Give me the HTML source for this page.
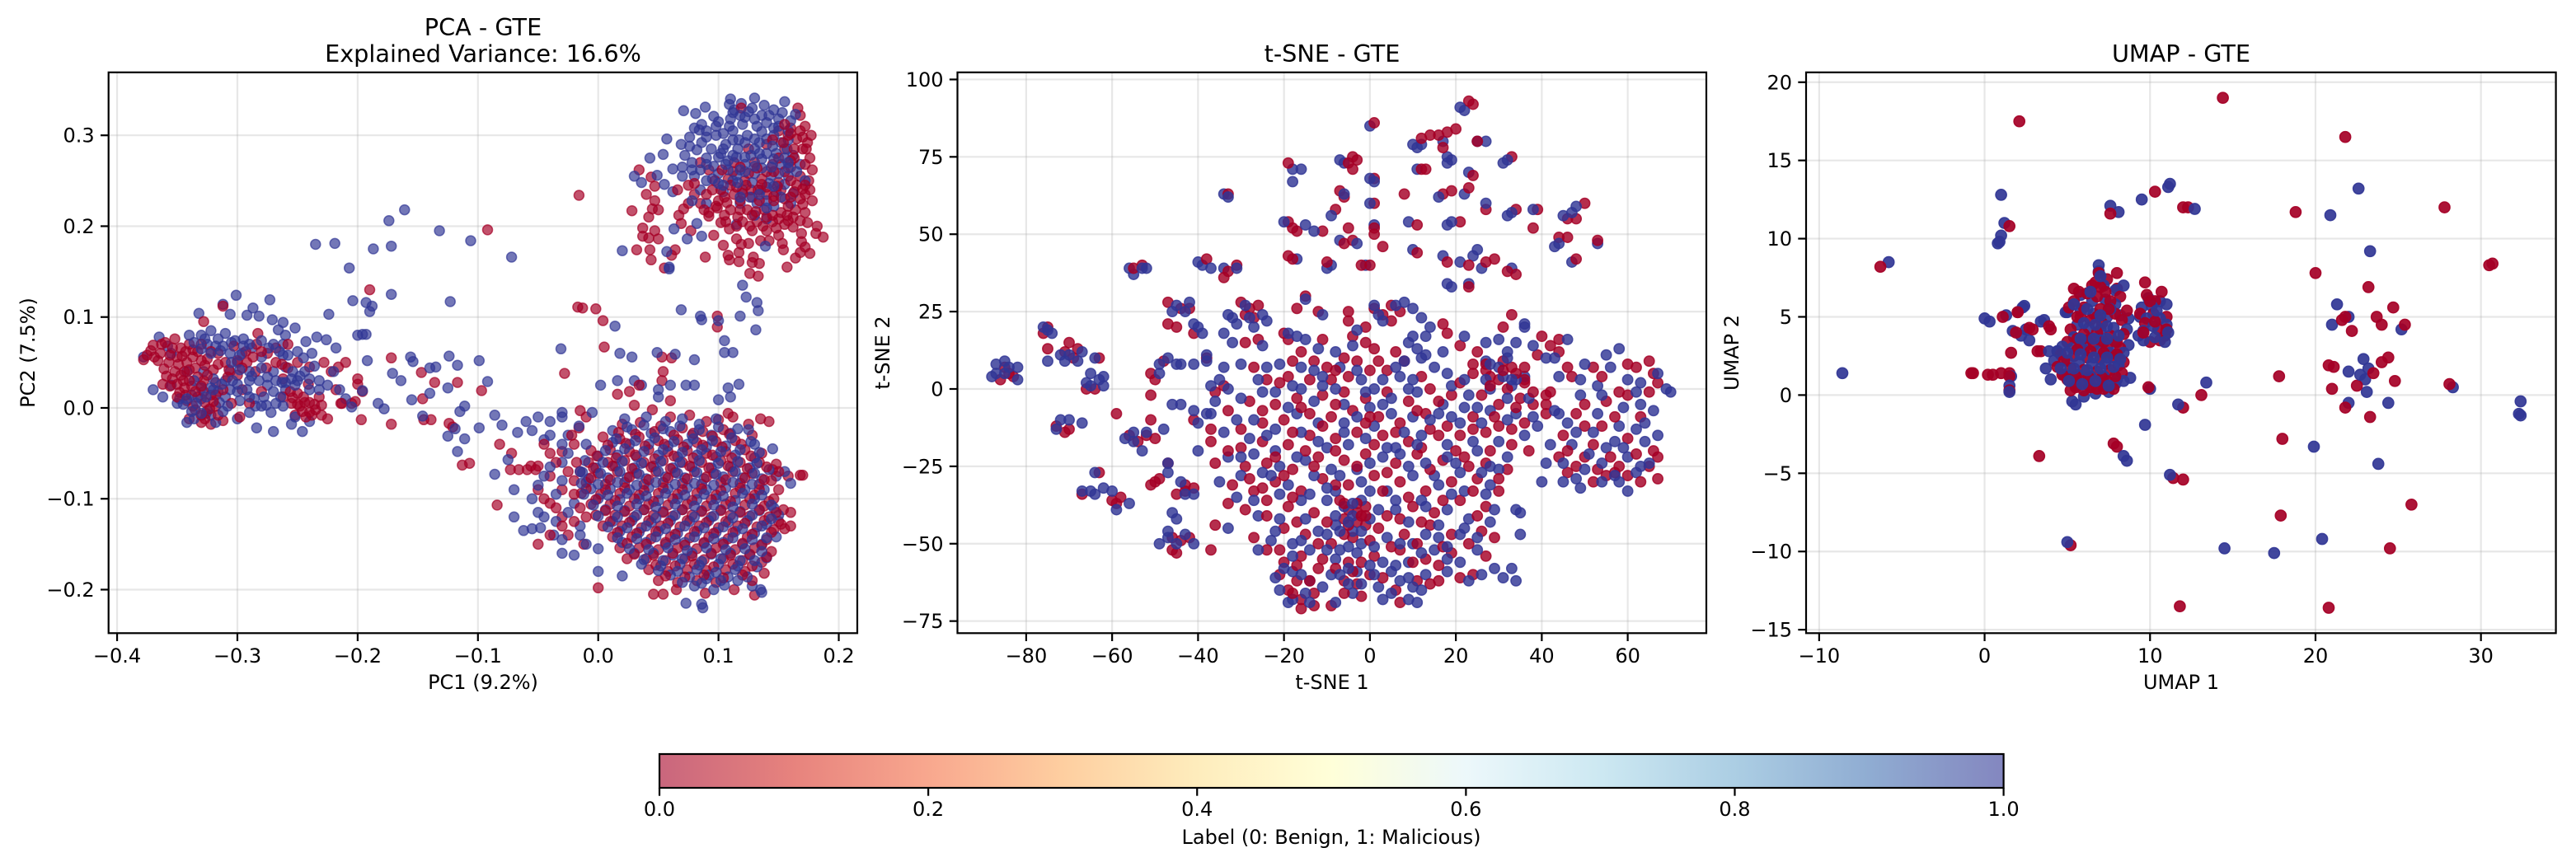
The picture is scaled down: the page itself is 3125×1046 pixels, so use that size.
<!DOCTYPE html>
<html lang="en">
<head>
<meta charset="utf-8">
<title>PCA, t-SNE and UMAP projections - GTE</title>
<style>
html,body{margin:0;padding:0;background:#fff}
svg{display:block}
text{font-family:"DejaVu Sans","Liberation Sans",sans-serif;fill:#000}
.title{font-size:28.7px;text-anchor:middle}
.axis-label{font-size:24px;text-anchor:middle}
.tick{font-size:24px}
</style>
</head>
<body>
<svg id="figure" xmlns="http://www.w3.org/2000/svg" width="3125" height="1046" viewBox="0 0 3125 1046">
<defs><linearGradient id="rdylbu" x1="0" x2="1" y1="0" y2="0"></linearGradient></defs>
<rect width="3125" height="1046" fill="#fff"/>
<g id="pca-panel"></g>
<g id="tsne-panel"></g>
<g id="umap-panel"></g>
<text class="title" x="586" y="43">PCA - GTE</text>
<text class="title" x="586" y="75">Explained Variance: 16.6%</text>
<text class="title" x="1616" y="75">t-SNE - GTE</text>
<text class="title" x="2646" y="75">UMAP - GTE</text>
<text class="axis-label" x="586" y="836">PC1 (9.2%)</text>
<text class="axis-label" x="1616" y="836">t-SNE 1</text>
<text class="axis-label" x="2646" y="836">UMAP 1</text>
<text class="axis-label" transform="translate(42,428) rotate(-90)">PC2 (7.5%)</text>
<text class="axis-label" transform="translate(1079,428) rotate(-90)">t-SNE 2</text>
<text class="axis-label" transform="translate(2109,428) rotate(-90)">UMAP 2</text>
<g id="colorbar"></g>
<text class="axis-label" x="1615" y="1024">Label (0: Benign, 1: Malicious)</text>
</svg>
<script>
const pcaXTicks=[-.4,-.3,-.2,-.1,0,.1,.2];
const pcaXLabels=["\u22120.4","\u22120.3","\u22120.2","\u22120.1","0.0","0.1","0.2"];
const pcaYTicks=[-.2,-.1,0,.1,.2,.3];
const pcaYLabels=["\u22120.2","\u22120.1","0.0","0.1","0.2","0.3"];
const tsneXTicks=[-80,-60,-40,-20,0,20,40,60];
const tsneXLabels=["\u221280","\u221260","\u221240","\u221220","0","20","40","60"];
const tsneYTicks=[-75,-50,-25,0,25,50,75,100];
const tsneYLabels=["\u221275","\u221250","\u221225","0","25","50","75","100"];
const umapXTicks=[-10,0,10,20,30];
const umapXLabels=["\u221210","0","10","20","30"];
const umapYTicks=[-15,-10,-5,0,5,10,15,20];
const umapYLabels=["\u221215","\u221210","\u22125","0","5","10","15","20"];
const colorbarTicks=[0,.2,.4,.6,.8,1];
const colorbarLabels=["0.0","0.2","0.4","0.6","0.8","1.0"];
const colormapPositions=[0,.1,.2,.3,.4,.5,.6,.7,.8,.9,1];
const colormapColors=["#a50026","#d73027","#f46d43","#fdae61","#fee090","#ffffbf","#e0f3f8","#abd9e9","#74add1","#4575b4","#313695"];

const pcaBenign=[
[-.378,.053],[-.375,.058],[-.37,.069],[-.364,.06],[-.36,.072],[-.352,.076],[-.347,.066],[-.357,.05],[-.35,.056],[-.34,.07],[-.333,.062],[-.342,.05],[-.359,.035],[-.352,.04],[-.345,.03],[-.335,.044],[-.325,.054],[-.316,.06],[-.31,.05],[-.32,.042],[-.348,.017],[-.338,.024],[-.328,.03],[-.318,.028],[-.342,.008],[-.333,.012],[-.322,.014],[-.335,-.002],[-.326,-.006],[-.318,.002],[-.33,-.016],[-.322,-.018],[-.312,-.014],[-.34,-.012],[-.362,.026],[-.3,.036],[-.292,.05],[-.284,.07],[-.275,.06],[-.285,.04],[-.268,.05],[-.262,.032],[-.303,.068],[-.296,.02],[-.28,.018],[-.328,.095],[-.312,.112],[-.283,.082],[-.262,.012],[-.255,.005],[-.248,.002],[-.24,-.005],[-.245,.012],[-.236,.004],[-.23,-.008],[-.252,-.008],[-.232,.012],[-.25,.05],[-.24,.045],[-.228,.05],[-.222,.04],[-.216,.045],[-.21,.05],[-.225,-.012],[-.218,.02],[-.213,.005],[-.205,.005],[-.2,.032],[-.196,.018],[-.241,.026],[-.258,.07],[-.305,.005],[-.298,-.01],[-.29,.005],
[-.092,.196],[-.19,.13],[-.016,.234],[-.017,.111],[-.013,.11],[-.002,.109],[.004,.096],[.005,.067],[-.028,.038],[-.172,.055],[-.136,.028],[-.147,.039],[-.117,.028],[-.097,.019],[-.146,.01],[-.214,.005],[-.202,.007],[-.2,.026],[-.197,-.013],[-.172,-.018],[-.145,-.013],[-.139,-.013],[-.124,-.017],[-.121,-.021],[-.113,-.063],[-.107,-.061],[-.082,-.04],[-.084,-.107],[-.072,-.05],[-.073,-.068],[-.066,-.068],[-.059,-.068],[-.052,-.068],[.099,.101],[.099,.089],[.053,.056],[.061,.055],
[.034,.262],[.044,.254],[.047,.244],[.04,.235],[.047,.228],[.05,.218],[.045,.219],[.028,.217],[.042,.21],[.037,.198],[.037,.189],[.042,.187],[.047,.195],[.05,.186],[.032,.174],[.043,.174],[.044,.163],[.064,.174],[.061,.168],[.055,.154],[.089,.166],[.096,.19],[.104,.179],[.108,.168],[.109,.163],[.117,.171],[.117,.161],[.115,.186],[.119,.18],[.125,.181],[.129,.166],[.128,.16],[.134,.159],[.126,.148],[.133,.145],[.153,.181],[.154,.174],[.157,.155],[.169,.192],[.169,.183],[.168,.171],[.164,.165],[.176,.17],[.172,.177],[.174,.204],[.182,.2],[.181,.192],[.187,.188],[.162,.199],[.142,.184],[.135,.184],[.109,.197],[.102,.204],[.092,.211],[.099,.22],[.067,.212],[.069,.203],[.077,.195],[.071,.219],
[.119,.33],[.166,.33],[.168,.322],[.172,.31],[.16,.308],[.15,.305],[.165,.296],[.177,.3],[.176,.275],[.178,.262],[.17,.285],[.155,.285],[.14,.29],[.125,.285],[.113,.27],[.13,.27],[.145,.268],[.16,.265],[.085,.27],[.092,.262],[.075,.245],[.066,.24],[.08,.235],[.095,.24],[.108,.252],[.122,.25],[.136,.252],[.15,.248],[.165,.245],[.176,.24],[.178,.228],[.168,.23],[.155,.23],[.14,.235],[.128,.232],[.113,.235],[.1,.228],[.11,.218],[.124,.218],[.138,.218],[.152,.215],[.164,.218],[.12,.205],[.132,.205],[.145,.205],[.155,.202],[.128,.195],[.14,.195],[.15,.19],[.085,.225],[.075,.225],[.172,.215],
[.0,-.198],[.046,-.205],[.054,-.205],[.089,-.204],[.13,-.206],[.113,-.2],[.065,-.2],[.17,-.074],[.168,-.074],[.155,-.133],[.16,-.115],[.1,-.013],[.135,-.012],[.125,-.018],[.108,-.006],[.112,-.01],[.142,-.015],[.16,-.13],[.158,-.075],[.145,-.068],[.15,-.07],[.06,.008],[.054,.04],[.053,.03],[.034,.025],[.016,.015],[.026,.018],[-.015,-.003],[-.01,-.01],[-.016,-.022],[-.02,-.04],[-.03,-.048],[-.04,-.05],[-.04,-.075],[-.05,-.064],[-.056,-.064],[-.02,-.08],[-.03,-.09],[-.05,-.09],[-.04,-.105],[-.03,-.12],[-.025,-.14],[-.05,-.15],[-.01,-.12],[-.012,-.15],
[.03,.003],[.045,-.002],[.06,-.01],[.076,-.008],[.09,-.015],[.02,-.018],[.035,-.016],[.052,-.02],[.07,-.022],[.087,-.026],[.104,-.024],[.004,-.032],[.018,-.034],[.034,-.032],[.05,-.036],[.066,-.035],[.082,-.038],[.098,-.037],[.114,-.036],[.128,-.03],[-.006,-.047],[.01,-.046],[.026,-.048],[.042,-.046],[.058,-.048],[.074,-.047],[.09,-.05],[.106,-.048],[.122,-.046],[.136,-.05],[-.008,-.06],[.008,-.06],[.022,-.058],[.038,-.06],[.054,-.058],[.07,-.06],[.086,-.06],[.102,-.058],[.118,-.06],[.134,-.06],[.148,-.062],[-.015,-.07],[.0,-.072],[.016,-.07],[.032,-.072],[.048,-.07],[.064,-.071],[.08,-.07],[.096,-.072],[.112,-.07],[.128,-.072],[.144,-.08],[-.01,-.082],[.006,-.084],[.022,-.082],[.038,-.084],[.054,-.082],[.07,-.083],[.086,-.084],[.102,-.082],[.118,-.083],[.134,-.084],[.15,-.09],[-.014,-.094],[.002,-.095],[.018,-.094],[.034,-.096],[.05,-.094],[.066,-.095],[.082,-.094],[.098,-.096],[.114,-.094],[.13,-.096],[.146,-.1],[-.006,-.106],[.01,-.106],[.026,-.108],[.042,-.106],[.058,-.107],[.074,-.106],[.09,-.108],[.106,-.106],[.122,-.107],[.138,-.108],[.154,-.112],[-.002,-.118],[.014,-.118],[.03,-.12],[.046,-.118],[.062,-.119],[.078,-.118],[.094,-.12],[.11,-.118],[.126,-.119],[.142,-.12],[.15,-.125],[.004,-.13],[.02,-.13],[.036,-.132],[.052,-.13],[.068,-.131],[.084,-.13],[.1,-.132],[.116,-.13],[.132,-.131],[.146,-.134],[.012,-.142],[.028,-.142],[.044,-.144],[.06,-.142],[.076,-.143],[.092,-.142],[.108,-.144],[.124,-.142],[.14,-.145],[.018,-.154],[.034,-.154],[.05,-.156],[.066,-.154],[.082,-.155],[.098,-.154],[.114,-.156],[.13,-.154],[.144,-.158],[.024,-.166],[.04,-.166],[.056,-.168],[.072,-.166],[.088,-.167],[.104,-.166],[.12,-.168],[.136,-.17],[.042,-.178],[.058,-.18],[.074,-.178],[.09,-.179],[.106,-.178],[.122,-.18],[.138,-.182],[.05,-.19],[.066,-.192],[.082,-.19],[.098,-.192],[.128,-.19],
[.017,-.027],[.031,-.029],[.047,-.026],[.063,-.03],[.079,-.028],[.095,-.031],[.109,-.029],[.008,-.041],[.023,-.039],[.039,-.042],[.055,-.04],[.071,-.043],[.087,-.041],[.103,-.043],[.119,-.04],[-.001,-.053],[.015,-.055],[.031,-.052],[.047,-.056],[.063,-.053],[.079,-.055],[.095,-.052],[.111,-.055],[.127,-.053],[-.004,-.066],[.012,-.064],[.028,-.067],[.044,-.065],[.06,-.067],[.076,-.064],[.092,-.066],[.108,-.064],[.124,-.067],[.14,-.065],[-.006,-.077],[.01,-.079],[.026,-.076],[.042,-.079],[.058,-.077],[.074,-.078],[.09,-.076],[.106,-.079],[.122,-.077],[.138,-.079],[-.01,-.089],[.006,-.09],[.022,-.088],[.038,-.091],[.054,-.088],[.07,-.09],[.086,-.089],[.102,-.091],[.118,-.088],[.134,-.09],[-.002,-.101],[.014,-.102],[.03,-.1],[.046,-.103],[.062,-.1],[.078,-.102],[.094,-.101],[.11,-.103],[.126,-.1],[.142,-.103],[.006,-.113],[.022,-.114],[.038,-.112],[.054,-.115],[.07,-.112],[.086,-.114],[.102,-.113],[.118,-.115],[.134,-.112],[.148,-.115],[.01,-.125],[.026,-.126],[.042,-.124],[.058,-.127],[.074,-.124],[.09,-.126],[.106,-.125],[.122,-.127],[.138,-.124],[.152,-.128],[.016,-.137],[.032,-.138],[.048,-.136],[.064,-.139],[.08,-.136],[.096,-.138],[.112,-.137],[.128,-.139],[.144,-.137],[.024,-.149],[.04,-.15],[.056,-.148],[.072,-.151],[.088,-.148],[.104,-.15],[.12,-.149],[.136,-.151],[.03,-.161],[.046,-.162],[.062,-.16],[.078,-.163],[.094,-.16],[.11,-.162],[.126,-.161],[.14,-.164],[.048,-.173],[.064,-.174],[.08,-.172],[.096,-.175],[.112,-.172],[.128,-.174],[.056,-.185],[.072,-.186],[.088,-.184],[.104,-.187],[.12,-.184],
[.092,.215],[.105,.212],[.116,.21],[.128,.212],[.14,.21],[.15,.208],[.162,.21],[.09,.235],[.102,.24],[.115,.243],[.127,.24],[.14,.243],[.152,.24],[.163,.238],[.172,.235],[.08,.247],[.097,.25],[.112,.26],[.125,.258],[.14,.26],[.155,.26],[.168,.255],[.175,.25],[.15,.275],[.163,.275],[.173,.285],[.158,.3],[.168,.305],[.145,.295],
[-.372,.063],[-.366,.052],[-.361,.043],[-.354,.066],[-.346,.057],[-.337,.056],[-.327,.047],[-.33,.07],[-.356,.024],[-.35,.012],[-.344,.022],[-.333,.034],[-.344,.04],[-.337,.002],[-.327,.006],[-.318,.014],[-.328,.018],[-.316,.048],[-.307,.042],[-.3,.052],[-.293,.062],[-.276,.044],[-.268,.066],[-.258,.044],[-.25,.016],[-.24,.006],[-.25,.004],[-.238,-.008],[-.246,-.004],[-.256,.018],[-.23,.003],
[.088,.218],[.098,.222],[.107,.226],[.118,.228],[.134,.228],[.146,.228],[.158,.222],[.17,.224],[.106,.205],[.115,.2],[.126,.2],[.137,.2],[.148,.198],[.158,.206],[.168,.206],[.118,.218],[.131,.216],[.145,.212],[.157,.212],[.105,.232],[.12,.236],[.133,.24],[.146,.233],[.16,.232],[.17,.241],[.11,.245],[.123,.245],[.136,.246],[.149,.244],[.16,.25],[.172,.245],[.103,.262],[.118,.265],[.132,.264],[.146,.26],[.16,.272],[.172,.268],[.154,.292],[.163,.285],[.174,.292],[.16,.302],[.17,.298],[.155,.312],
[-.369,.056],[-.363,.07],[-.356,.058],[-.349,.048],[-.343,.062],[-.337,.064],[-.354,.032],[-.347,.036],[-.34,.03],[-.35,.026],[-.343,.014],[-.335,.018],[-.33,.024],[-.325,.036],[-.34,.042],[-.33,.052],[-.322,.062],[-.33,-.008],[-.323,-.001],[-.327,-.012],[-.316,-.008],[-.32,.007],[-.312,.02],[-.308,.034],[-.296,.044],[-.287,.056],[-.28,.062],[-.263,.048],[-.254,.011],[-.244,.006],[-.235,-.002],[-.243,-.01],
[-.045,-.04],[-.035,-.06],[-.025,-.07],[-.045,-.1],[-.035,-.11],[-.02,-.095],[-.03,-.13],[-.04,-.14],[-.02,-.125],[-.018,-.06],[-.022,-.03],[-.015,-.11]
];
const pcaMalicious=[
[-.378,.056],[-.365,.078],[-.358,.068],[-.33,.08],[-.322,.085],[-.316,.076],[-.31,.082],[-.302,.074],[-.325,.07],[-.312,.068],[-.295,.076],[-.288,.066],[-.332,.104],[-.312,.114],[-.306,.103],[-.301,.124],[-.292,.102],[-.282,.101],[-.273,.119],[-.287,.11],[-.271,.097],[-.262,.094],[-.26,.08],[-.262,.07],[-.266,.086],[-.252,.088],[-.25,.062],[-.243,.073],[-.234,.078],[-.226,.075],[-.218,.066],[-.296,.06],[-.31,.03],[-.3,.05],[-.306,.04],[-.282,.03],[-.29,.03],[-.27,.04],[-.26,.045],[-.275,.025],[-.26,.02],[-.348,.01],[-.355,.025],[-.362,.012],[-.342,.04],[-.35,.005],[-.338,.014],[-.328,.04],[-.33,.01],[-.322,.022],[-.31,.012],[-.316,.018],[-.325,-.003],[-.336,-.012],[-.318,-.016],[-.306,.02],[-.298,.008],[-.286,.01],[-.278,.012],[-.268,.005],[-.272,-.005],[-.3,-.012],[-.284,-.022],[-.27,-.026],[-.252,-.01],[-.246,-.026],[-.24,-.015],[-.255,-.018],[-.285,.002],[-.262,.002],[-.24,.02],[-.232,.03],[-.225,.025],[-.22,.04],[-.215,.02],[-.21,.01],[-.238,.06],[-.248,.035],[-.37,.02],[-.355,.06],
[-.235,.18],[-.219,.181],[-.187,.175],[-.172,.178],[-.207,.154],[-.174,.206],[-.161,.218],[-.132,.195],[-.106,.184],[-.072,.166],[-.204,.118],[-.193,.116],[-.188,.112],[-.19,.106],[-.172,.125],[-.224,.103],[-.123,.117],[-.2,.08],[-.196,.081],[-.193,.081],[-.192,.052],[-.196,.019],[-.183,.005],[-.178,-.001],[-.205,.001],[-.156,.056],[-.154,.051],[-.171,.038],[-.164,.03],[-.124,.057],[-.117,.047],[-.135,.045],[-.14,.044],[-.099,.052],[-.092,.029],[-.125,.022],[-.14,.016],[-.155,.009],[-.111,.002],[-.115,-.004],[-.146,-.009],[-.099,-.022],[-.086,-.008],[-.08,-.019],[-.125,-.031],[-.119,-.023],[-.111,-.034],[-.117,-.048],[-.086,-.073],[-.075,-.057],
[.12,.135],[.123,.122],[.132,.116],[.133,.107],[.118,.101],[.069,.108],[.085,.101],[.086,.097],[.1,.096],[.131,.086],[.105,.074],[.112,.061],[.105,.061],[.08,.053],[.049,.061],[.064,.059],[.018,.06],[.028,.056],[.014,.09],[-.031,.065],
[.071,.327],[.081,.324],[.089,.331],[.096,.321],[.11,.34],[.109,.334],[.13,.341],[.155,.337],[.119,.335],[.113,.328],[.057,.296],[.054,.279],[.043,.275],[.069,.29],[.03,.255],[.036,.248],[.062,.263],[.049,.256],[.055,.246],[.062,.238],[.02,.173],[.063,.197],[.082,.203],[.086,.189],[.074,.186],[.057,.172],[.059,.155],[.059,.153],[.139,.178],[.115,.202],
[.138,.333],[.146,.328],[.125,.326],[.11,.318],[.12,.312],[.13,.318],[.14,.314],[.15,.318],[.16,.316],[.112,.305],[.124,.3],[.136,.304],[.146,.3],[.158,.295],[.084,.306],[.076,.298],[.09,.298],[.082,.284],[.072,.278],[.094,.285],[.106,.29],[.116,.285],[.13,.285],[.148,.28],[.162,.278],[.108,.272],[.122,.268],[.136,.274],[.152,.268],[.168,.268],[.07,.265],[.08,.255],[.07,.255],[.09,.25],[.1,.258],[.115,.256],[.13,.258],[.144,.256],[.158,.255],[.085,.24],[.104,.238],[.12,.24],[.135,.24],[.148,.238],[.162,.236],[.078,.228],[.09,.225],[.118,.225],[.132,.225],[.146,.222],[.16,.225],[.13,.212],[.14,.208],
[.086,-.216],[.073,-.215],[.087,-.22],[.135,-.2],[.136,-.203],[.128,-.196],[.02,-.185],[.0,-.18],[.148,-.075],[.155,-.07],[.16,-.083],[.03,.03],[.036,.025],[.05,.012],[.06,.025],[.073,.025],[.08,.025],[.108,.022],[.117,.026],[.1,.009],[.11,.012],[.05,.02],[.002,.025],[.016,.03],[-.03,-.005],[-.05,-.01],[-.04,-.015],[-.03,-.01],[-.016,-.02],[-.005,-.005],[-.06,-.015],[-.055,-.025],[-.067,-.027],[-.045,-.035],[-.025,-.03],[-.03,-.06],[-.05,-.085],[-.07,-.09],[-.055,-.1],[-.05,-.115],[-.035,-.095],[-.07,-.12],[-.062,-.135],[-.055,-.133],[-.048,-.132],[-.037,-.14],[-.03,-.16],[-.02,-.162],[-.01,-.15],[.0,-.155],[-.035,-.125],[-.02,-.105],[-.015,-.13],
[.022,-.012],[.04,-.01],[.056,-.015],[.07,-.012],[.084,-.018],[.098,-.012],[.012,-.025],[.028,-.024],[.044,-.028],[.06,-.026],[.078,-.03],[.094,-.03],[.11,-.028],[.125,-.024],[.012,-.038],[.026,-.04],[.042,-.04],[.058,-.042],[.074,-.04],[.09,-.043],[.106,-.042],[.13,-.04],[.145,-.045],[.0,-.053],[.016,-.052],[.032,-.054],[.05,-.052],[.066,-.054],[.082,-.052],[.098,-.054],[.114,-.052],[.13,-.055],[-.002,-.066],[.014,-.064],[.03,-.066],[.046,-.064],[.062,-.066],[.078,-.065],[.094,-.066],[.11,-.065],[.126,-.066],[.142,-.068],[-.008,-.078],[.008,-.077],[.024,-.077],[.04,-.078],[.056,-.076],[.072,-.077],[.088,-.078],[.104,-.076],[.12,-.077],[.136,-.078],[-.006,-.089],[.01,-.089],[.026,-.09],[.042,-.088],[.058,-.089],[.074,-.088],[.09,-.09],[.106,-.088],[.122,-.09],[.138,-.09],[.0,-.1],[.018,-.101],[.034,-.1],[.05,-.102],[.066,-.1],[.082,-.101],[.098,-.1],[.114,-.102],[.13,-.1],[.146,-.11],[.006,-.112],[.022,-.113],[.038,-.112],[.054,-.114],[.07,-.112],[.086,-.113],[.102,-.112],[.118,-.114],[.134,-.113],[.15,-.118],[.012,-.125],[.028,-.124],[.044,-.126],[.06,-.124],[.076,-.125],[.092,-.124],[.108,-.126],[.124,-.124],[.14,-.128],[.018,-.136],[.034,-.137],[.05,-.136],[.066,-.138],[.082,-.136],[.098,-.137],[.114,-.136],[.13,-.138],[.148,-.142],[.02,-.148],[.04,-.148],[.056,-.15],[.072,-.148],[.088,-.149],[.104,-.148],[.12,-.15],[.136,-.15],[.03,-.16],[.046,-.16],[.062,-.162],[.078,-.16],[.094,-.161],[.11,-.16],[.126,-.162],[.14,-.165],[.036,-.172],[.052,-.174],[.068,-.172],[.084,-.173],[.1,-.172],[.116,-.174],[.132,-.175],[.06,-.184],[.076,-.186],[.092,-.184],[.108,-.186],[.124,-.186],[.08,-.196],[.096,-.2],[.105,-.195],[.09,-.188],
[.024,-.021],[.038,-.019],[.054,-.023],[.068,-.02],[.084,-.024],[.1,-.021],[.116,-.023],[.015,-.034],[.031,-.036],[.047,-.033],[.063,-.037],[.079,-.034],[.095,-.036],[.111,-.033],[.127,-.037],[.006,-.047],[.022,-.045],[.038,-.048],[.054,-.046],[.07,-.049],[.086,-.046],[.102,-.048],[.118,-.046],[.134,-.049],[-.011,-.058],[.004,-.06],[.02,-.059],[.036,-.061],[.052,-.059],[.068,-.06],[.084,-.058],[.1,-.061],[.116,-.059],[.132,-.061],[-.013,-.071],[.002,-.072],[.018,-.07],[.034,-.073],[.05,-.07],[.066,-.072],[.082,-.071],[.098,-.073],[.114,-.07],[.13,-.072],[-.014,-.083],[.0,-.084],[.016,-.082],[.032,-.085],[.048,-.082],[.064,-.084],[.08,-.083],[.096,-.085],[.112,-.082],[.128,-.084],[-.012,-.095],[.008,-.096],[.024,-.094],[.04,-.097],[.056,-.094],[.072,-.096],[.088,-.095],[.104,-.097],[.12,-.094],[.136,-.096],[-.004,-.107],[.016,-.108],[.032,-.106],[.048,-.109],[.064,-.106],[.08,-.108],[.096,-.107],[.112,-.109],[.128,-.106],[.144,-.107],[.0,-.119],[.016,-.12],[.032,-.118],[.048,-.121],[.064,-.118],[.08,-.12],[.096,-.119],[.112,-.121],[.128,-.118],[.144,-.122],[.008,-.131],[.024,-.132],[.04,-.13],[.056,-.133],[.072,-.13],[.088,-.132],[.104,-.131],[.12,-.133],[.136,-.13],[.016,-.143],[.032,-.144],[.048,-.142],[.064,-.145],[.08,-.142],[.096,-.144],[.112,-.143],[.128,-.145],[.14,-.143],[.026,-.155],[.042,-.156],[.058,-.154],[.074,-.157],[.09,-.154],[.106,-.156],[.122,-.155],[.136,-.158],[.038,-.167],[.054,-.168],[.07,-.166],[.086,-.169],[.102,-.166],[.118,-.168],[.13,-.168],[.05,-.179],[.066,-.18],[.082,-.178],[.098,-.181],[.114,-.178],[.07,-.192],[.086,-.193],[.102,-.19],[.116,-.19],
[.086,.312],[.098,.31],[.109,.31],[.118,.322],[.128,.33],[.136,.322],[.146,.308],[.153,.325],[.164,.323],[.117,.295],[.13,.296],[.14,.296],[.152,.292],[.098,.3],[.09,.275],[.1,.276],[.115,.276],[.127,.278],[.14,.28],[.155,.275],[.078,.27],[.085,.262],[.096,.266],[.108,.262],[.122,.26],[.136,.264],[.15,.258],[.165,.26],[.1,.247],[.112,.25],[.128,.248],[.142,.247],[.155,.246],[.172,.25],[.126,.232],[.14,.228],[.152,.232],
[-.34,.08],[-.327,.076],[-.318,.068],[-.306,.06],[-.295,.068],[-.28,.056],[-.27,.07],[-.262,.058],[-.305,.05],[-.29,.04],[-.3,.026],[-.292,.02],[-.28,.044],[-.268,.03],[-.255,.032],[-.345,.004],[-.336,.03],[-.32,.032],[-.338,-.004],[-.33,.022],[-.315,.006],[-.308,.002],[-.29,-.005],[-.276,.003],[-.264,.012],[-.252,.025],[-.244,.04],[-.258,.058],[-.232,.02],[-.342,-.016],[-.322,-.008],
[.08,.308],[.09,.305],[.1,.315],[.104,.302],[.112,.325],[.122,.32],[.132,.31],[.142,.322],[.15,.31],[.158,.305],[.104,.285],[.112,.295],[.122,.292],[.134,.292],[.145,.288],[.157,.285],[.076,.288],[.086,.292],[.078,.262],[.09,.268],[.102,.28],[.112,.278],[.122,.276],[.134,.28],[.146,.274],[.158,.27],[.095,.252],[.106,.268],[.118,.262],[.13,.266],[.144,.265],[.158,.264],[.104,.245],[.116,.248],[.134,.235],[.146,.244],[.118,.232],[.14,.22],
[-.336,.072],[-.33,.065],[-.322,.06],[-.314,.063],[-.305,.072],[-.298,.058],[-.29,.07],[-.28,.074],[-.274,.066],[-.265,.062],[-.298,.042],[-.288,.035],[-.275,.034],[-.263,.028],[-.254,.04],[-.342,.01],[-.334,.005],[-.326,.012],[-.32,.02],[-.313,.026],[-.33,-.006],[-.312,-.004],[-.3,.018],[-.29,.012],[-.28,.002],[-.27,.018],[-.26,.028],[-.25,.03],[-.24,.032],[-.236,.046],[-.245,.055],[-.304,.03],
[-.04,-.03],[-.03,-.04],[-.04,-.065],[-.025,-.05],[-.045,-.075],[-.03,-.08],[-.015,-.07],[-.045,-.12],[-.025,-.115],[-.03,-.145],[-.015,-.14],[-.01,-.04]
];

const tsneBenign=[
[23,93],[24,92],[1,86],[20,84],[18,83],[16,82],[12,81],[14,82],[25,80],[17,78],[-4,75],[-3,74],[-5,73],[-4,71],[-19,73],[13,71],[12,71],[33,75],[24,69],[1,68],[-7,64],[-6,62],[8,63],[17,63],[19,64],[23,65],[-33,63],[1,60],[27,58],[34,58],[39,58],[50,60],[46,55],[48,55],[-8,58],[-19,54],[-18,52],[-17,51],[-11,51],[-5,52],[-4,48],[-6,47],[1,52],[1,50],[11,53],[21,54],[38,52],[44,49],[46,49],[53,48],[11,44],[3,46],[18,41],[23,40],[27,41],[29,42],[32,38],[34,37],[48,42],[-18,42],[-19,43],[-10,41],[0,40],[-2,40],[23,33],[-38,42],[-31,40],[-33,38],[-34,36],[-53,40],[-55,39],
[-75,20],[-76,18],[-70,15],[-68,13],[-71,12],[-69,10],[-75,13],[-63,10],[-66,0],[-64,0],[-85,7],[-84,5],[-86,3],[-83,4],[-73,-12],[-71,-14],[-70,-13],[-59,-8],[-56,-15],[-54,-17],[-52,-15],[-50,-16],[-51,-2],[-51,-10],[-49,-29],[-47,-24],[-50,3],[-51,5],[-48,9],[-47,28],[-47,21],[-45,20],[-44,26],[-42,26],[-41,18],[-30,28],[-28,26],[-26,27],[-29,24],[-27,23],[-38,10],[-34,1],[-36,-1],[-37,-13],[-41,-10],[-50,-30],[-43,-33],[-41,-32],[-45,-34],[-43,-31],[-51,-31],[-46,-48],[-44,-49],[-42,-48],[-45,-53],[-46,-52],[-37,-52],[-67,-34],[-59,-37],[-60,-36],[-63,-27],[-58,-35],
[-15,30],[-17,26],[-12,25],[-5,25],[-5,22],[-20,18],[-19,16],[-11,16],[-1,20],[-4,17],[5,22],[3,24],[1,26],[5,27],[7,25],[-29,15],[-26,16],[-6,10],[-1,15],[1,13],[18,18],[17,21],[21,14],[25,12],[33,24],[31,20],[40,17],[42,14],[44,16],[44,12],[39,11],[47,4],
[-14,3],[-10,7],[-5,4],[0,6],[-18,9],[-13,9],[-9,3],[4,6],[8,9],[12,4],[24,5],[27,6],[30,3],[33,7],[36,2],[-27,7],[-24,3],[-19,4],
[-22,-5],[-17,-3],[-11,-2],[-6,-1],[-1,-3],[4,-1],[9,-4],[14,0],[19,-2],[26,-2],[30,-5],[35,-3],[38,-5],[41,-5],[-33,-7],[-28,-4],
[-30,-13],[-25,-11],[-20,-10],[-14,-8],[-9,-9],[-4,-7],[2,-9],[7,-11],[13,-8],[18,-12],[24,-9],[30,-12],[36,-11],[-37,-17],[-30,-19],[-25,-17],[-19,-18],[-14,-15],[-8,-16],[-3,-14],[3,-15],[9,-17],[14,-13],[21,-15],[27,-14],[33,-18],[37,-20],
[-36,-24],[-29,-25],[-24,-24],[-18,-26],[-12,-22],[-6,-23],[-1,-21],[6,-24],[11,-21],[17,-23],[23,-25],[27,-24],[32,-26],[-32,-31],[-27,-33],[-22,-30],[-16,-33],[-11,-29],[-5,-31],[1,-28],[7,-30],[13,-33],[19,-30],[25,-29],[30,-33],[-33,-37],[-29,-39],[-24,-36],[-19,-38],[-13,-40],[-7,-36],[-5,-39],[-3,-40],[-1,-38],[-3,-43],[-6,-42],[-1,-44],[4,-41],[10,-38],[15,-40],[21,-36],[27,-38],[-36,-44],[-27,-48],[-20,-45],[-15,-47],[-9,-50],[-4,-48],[2,-45],[8,-47],[14,-44],[19,-47],[26,-46],[29,-48],[-21,-52],[-16,-54],[-11,-55],[-5,-56],[1,-54],[7,-52],[13,-55],[19,-53],[27,-54],[-21,-60],[-17,-62],[-12,-58],[-6,-62],[0,-60],[6,-65],[11,-62],[16,-62],[21,-61],[24,-60],[-19,-65],[-16,-68],[-13,-66],[-9,-70],[-3,-63],[-2,-67],[7,-69],[-16,-71],[-20,-56],
[46,7],[52,7],[60,8],[62,7],[65,9],[66,5],[67,2],[65,-1],[42,-1],[48,-8],[55,-4],[60,-2],[63,-9],[45,-15],[50,-12],[54,-12],[52,-18],[60,-16],[66,-20],[44,-22],[48,-25],[53,-26],[58,-25],[65,-25],[67,-22],[46,-27],[52,-30],[55,-28],[60,-28],[67,-29],[36,3],[34,-6],[41,-8],[32,0],[28,4],[24,8],[31,9],[36,7],
[-21,2],[-16,12],[-8,6],[-3,9],[2,9],[6,12],[-16,-6],[-8,-5],[0,-9],[11,-7],[16,-4],[21,2],[29,-9],[-25,-7],[-18,-14],[-11,-12],[-1,-11],[6,-14],[16,-15],[24,-13],[33,-13],[-33,-20],[-22,-22],[-15,-20],[-8,-20],[1,-18],[12,-19],[20,-20],[28,-20],[-28,-29],[-20,-28],[-13,-25],[-3,-25],[4,-27],[14,-26],[22,-22],[30,-29],[-25,-32],[-18,-35],[-8,-31],[3,-33],[9,-35],[17,-36],[24,-33],[-24,-41],[-17,-43],[-10,-43],[-5,-44],[-2,-41],[-6,-37],[-3,-37],[-1,-41],[7,-42],[12,-43],[25,-41],[-24,-52],[-12,-50],[-6,-47],[0,-49],[5,-51],[11,-50],[17,-51],[23,-50],[-17,-57],[-8,-58],[-2,-56],[10,-56],[16,-57],[-14,-62],[-4,-59],[3,-61],[14,-63],[-18,-66],[-13,-70],[-6,-66],
[54,4],[58,-1],[50,-5],[57,-9],[46,-20],[56,-22],[62,-21],[50,-22],[57,-27],[63,-30],[31,6],[27,8],[34,5],[28,1],[38,-1],[41,-2]
];
const tsneMalicious=[
[22,90],[21,91],[0,85],[17,80],[12,79],[10,79],[11,78],[25,80],[27,80],[18,75],[19,74],[-7,74],[-6,73],[-18,71],[-16,71],[11,71],[18,73],[23,70],[32,74],[31,73],[1,67],[0,68],[-18,67],[-6,63],[16,62],[22,63],[-34,63],[-33,62],[0,60],[27,60],[33,57],[32,56],[38,58],[48,59],[47,57],[45,56],[-9,56],[-20,54],[-15,53],[-13,51],[-7,48],[-3,47],[1,53],[9,54],[10,45],[18,53],[19,54],[43,46],[44,47],[53,47],[25,45],[24,43],[17,43],[21,41],[26,39],[33,39],[47,41],[-17,42],[-9,40],[-10,39],[-1,40],[18,34],[19,33],[23,34],[-40,41],[-39,40],[-34,39],[-37,39],[-31,39],[-56,39],[-55,37],[-53,39],[-52,39],
[-76,20],[-75,19],[-74,18],[-72,11],[-71,9],[-70,11],[-68,9],[-67,12],[-75,9],[-64,10],[-65,5],[-66,2],[-63,3],[-62,1],[-65,1],[-62,4],[-87,8],[-85,9],[-87,5],[-84,7],[-88,4],[-85,5],[-82,3],[-82,7],[-72,-10],[-73,-13],[-70,-10],[-67,-11],[-55,-14],[-57,-16],[-53,-20],[-52,-14],[-55,-17],[-48,-13],[-47,-27],[-47,-24],[-49,8],[-47,10],[-45,8],[-49,5],[-45,27],[-42,28],[-46,25],[-43,25],[-40,20],[-39,18],[-41,21],[-32,23],[-29,27],[-31,21],[-27,20],[-25,24],[-24,22],[-28,23],[-33,24],[-35,3],[-33,0],[-37,1],[-44,8],[-41,8],[-38,9],[-41,-7],[-38,-8],[-40,-11],[-37,-8],[-44,-5],[-46,-5],[-43,-34],[-44,-30],[-41,-34],[-46,-40],[-45,-42],[-49,-50],[-47,-48],[-47,-46],[-45,-50],[-43,-47],[-41,-50],[-67,-33],[-65,-33],[-64,-34],[-62,-32],[-64,-27],[-60,-33],[-56,-37],[-59,-39],
[-15,29],[-11,24],[-3,19],[-17,17],[-15,16],[-19,18],[-8,12],[-4,14],[2,24],[1,27],[3,22],[6,27],[8,28],[10,26],[12,23],[14,20],[17,12],[22,17],[27,15],[30,16],[34,15],[32,12],[38,14],[41,10],[36,20],[36,21],[43,10],[46,16],[-34,18],[-32,15],[-25,14],[-12,13],[9,15],[11,13],[8,9],[12,10],[10,17],[13,17],[-38,11],[-34,7],
[-30,8],[-26,3],[-21,8],[-16,7],[-11,4],[-7,7],[-2,3],[3,3],[7,4],[10,3],[15,7],[19,1],[23,-2],[27,9],[31,4],[36,4],[-22,-1],[-16,0],[-11,1],[-6,-5],[-1,-1],[5,-3],[11,-1],[17,-5],[22,-6],[28,0],[33,1],[37,-3],[-30,-3],[-36,-4],
[-27,-10],[-22,-13],[-17,-8],[-12,-11],[-6,-11],[0,-6],[5,-8],[10,-9],[16,-8],[21,-11],[28,-7],[34,-8],[39,-12],[-34,-14],[-28,-16],[-22,-20],[-16,-14],[-10,-19],[-5,-18],[1,-12],[6,-19],[12,-15],[18,-18],[24,-17],[30,-17],[36,-15],[-40,-20],[-33,-22],[-27,-21],[-21,-25],[-15,-23],[-9,-26],[-3,-26],[3,-22],[9,-25],[15,-28],[20,-24],[26,-27],[30,-26],[-35,-30],[-30,-28],[-25,-27],[-19,-31],[-13,-28],[-8,-33],[-2,-30],[4,-33],[10,-28],[16,-31],[22,-33],[28,-31],[-31,-35],[-26,-41],[-21,-42],[-16,-36],[-10,-36],[-6,-38],[-4,-41],[-2,-36],[-4,-46],[-8,-44],[0,-42],[6,-39],[12,-36],[18,-39],[23,-42],[29,-39],[35,-40],[34,-39],[-33,-45],[-23,-49],[-18,-50],[-12,-46],[-7,-52],[-2,-50],[4,-48],[10,-50],[16,-48],[22,-45],[28,-43],[35,-47],[-20,-58],[-14,-52],[-8,-55],[-3,-53],[3,-56],[9,-56],[15,-52],[21,-56],[25,-52],[-22,-61],[-18,-59],[-14,-62],[-9,-60],[-3,-59],[2,-64],[5,-59],[9,-61],[13,-60],[18,-59],[23,-62],[26,-60],[29,-58],[33,-58],[31,-61],[34,-62],[-21,-65],[-18,-68],[-15,-66],[-11,-64],[-8,-69],[-4,-66],[-2,-63],[5,-66],[9,-68],[10,-64],[11,-69],[-19,-69],
[44,4],[50,8],[55,11],[58,13],[53,1],[60,3],[63,2],[67,5],[69,0],[70,-1],[44,-8],[49,-2],[54,-2],[59,-6],[63,-5],[66,-7],[48,-14],[53,-8],[58,-12],[62,-13],[67,-15],[42,-18],[47,-18],[55,-19],[60,-22],[64,-17],[41,-24],[45,-30],[50,-26],[54,-24],[58,-30],[62,-27],[65,-24],[49,-32],[60,-33],[40,-30],[43,-7],[38,-9],[34,3],[30,7],[27,3],[32,10],
[-24,7],[-18,1],[-13,6],[-8,0],[-3,6],[1,0],[6,7],[9,0],[13,11],[18,5],[22,3],[25,-6],[32,-3],[-25,-1],[-19,-6],[-13,-4],[-3,-9],[3,-5],[8,-14],[14,-10],[19,-9],[26,-11],[32,-10],[-31,-10],[-24,-15],[-12,-17],[-6,-14],[-1,-16],[4,-19],[11,-18],[18,-22],[25,-20],[32,-22],[-30,-22],[-23,-28],[-17,-22],[-7,-28],[0,-24],[7,-21],[13,-24],[21,-27],[28,-25],[-27,-36],[-21,-34],[-14,-34],[-10,-32],[0,-33],[6,-36],[13,-38],[19,-34],[27,-34],[-22,-46],[-15,-42],[-8,-41],[-5,-43],[-2,-46],[-7,-46],[-4,-37],[2,-39],[9,-43],[16,-44],[21,-47],[-26,-52],[-16,-49],[-10,-47],[-5,-51],[1,-51],[7,-50],[13,-47],[18,-51],[25,-48],[-18,-54],[-10,-52],[-5,-58],[0,-57],[6,-57],[12,-53],[18,-55],[-16,-60],[-7,-60],[1,-60],[7,-62],[12,-65],[-14,-69],[-5,-63],[3,-68],
[56,7],[49,3],[62,-1],[46,-11],[52,-14],[64,-11],[57,-17],[45,-24],[51,-21],[59,-19],[48,-29],[54,-30],[63,-25],[57,-28],[28,8],[33,3]
];

const umapBenign=[
[2.1,17.5],[14.4,19],[21.8,16.5],[27.8,12],[20,7.8],[17.8,1.2],[18,-2.8],[25.8,-7],[11.8,-13.5],[20.8,-13.6],[24.5,-9.8],[17.9,-7.7],[18.8,11.7],[12,12],[12.3,12],[10.3,13],[2,5.3],[-6.3,8.2],[30.5,8.3],[30.7,8.4],[24.7,5.6],[23.2,6.9],[24,4.5],[23.7,5],[3.3,-3.9],[7.8,-3.1],[8,-3.3],[11.4,-5.3],[12,-5.4],[12,-.8],[13.1,0],[9.9,.5],[5.2,-9.6],[21.8,-.8],[20.8,1.9],[21.1,1.8],[21,.4],[22.5,.6],[24,2.1],[24.4,2.4],[24.8,.9],[28.1,.7],[23.3,-1.4],[7.6,11.6],[1.5,10.8],[25.4,4.5],[21.8,5],[22.2,4.1],[21.6,4.8],[23.5,1.4],
[-.8,1.4],[-.7,1.4],[.2,1.3],[.5,1.3],[1,1.4],[1.5,1.4],[1.5,1.2],[1.5,.3],[1.6,2.7],[3.2,2.8],[3.4,2.8],[2.9,4.2],[2.7,4.3],[3.9,4.4],[4,4.2],[1.9,4],[1.1,5],[2,5.3],[9.7,7.2],[8,7.8],[7.4,7.4],[8,6.8],[8.2,6.3],
[6.9,7.8],[6.7,7.2],[7,6.9],[5.4,6.8],[6.2,6.5],[6.8,6.3],[7.6,6],[5.4,6],[6,5.6],[7,5.5],[7.9,5.2],[5.6,5],[6.4,4.8],[7.1,4.6],[8.3,4.8],[5.2,4.2],[6,3.9],[6.8,4],[7.6,3.8],[8.4,3.9],[5,3.4],[5.8,3.2],[6.6,3.2],[7.4,3],[8.2,3],[4.6,2.6],[5.4,2.5],[6.2,2.4],[7,2.3],[7.8,2.4],[8.4,2.1],[4.4,1.8],[5.2,1.7],[6,1.6],[6.8,1.5],[7.6,1.6],[8.3,1.4],[5,1],[5.8,.9],[6.6,.8],[7.4,.9],[5.2,.3],[6,.3],[6.8,.4],[7.8,.4],
[9.8,6.4],[10.7,6.6],[10.3,6],[9.4,5.2],[10.2,5.2],[11,5],[9.7,4.6],[10.5,4.2],[10.9,3.8],[10,3.4],[10.6,3.5],
[5.7,6.6],[6.5,7],[7.3,6.6],[5.1,5.6],[5.8,5],[6.8,5],[7.5,5.5],[8.6,5.4],[5.6,3.6],[6.4,3.6],[7.2,3.4],[8,3.4],[4.8,2.2],[5.6,2.9],[6.4,2.8],[7.2,2.7],[8,2.6],[4.7,1.3],[5.5,1.2],[6.3,1.1],[7.1,1.1],[7.9,1.2],[5.5,.5],[6.4,.5],[7.2,.4],[10,6],[9.6,4],[10.3,4.7],[11,4.2]
];
const umapMalicious=[
[-8.6,1.4],[-5.8,8.5],[1,12.8],[1.2,11],[1,10.2],[.9,9.8],[.8,9.7],[22.6,13.2],[20.9,11.5],[23.3,9.2],[11.2,13.5],[11.1,13.3],[9.5,12.5],[7.6,12.1],[8.1,11.7],[12.7,11.9],[21.3,5.8],[21,4.5],[22,5],[25.2,4.2],[22.9,2.3],[22,1.5],[23,1],[23.1,.2],[22,-.5],[24.4,-.5],[32.4,-.4],[32.3,-1.2],[32.4,-1.3],[28.3,.5],[13.4,.8],[10,.4],[11.7,-.6],[9.7,-1.9],[8.4,-3.9],[8.6,-4.2],[11.2,-5.1],[19.9,-3.3],[23.8,-4.4],[5,-9.4],[20.4,-9.2],[14.5,-9.8],[17.5,-10.1],[22.7,1.3],[23.2,1.7],
[0,4.9],[.3,4.7],[1.3,5.1],[2.4,5.7],[2.3,5.6],[3.6,4.8],[3.4,4.7],[1.7,4.1],[2.2,3.8],[2.5,4.2],[2.7,3.5],[1.6,1.2],[1.5,.6],[1.5,.2],[4,1],[4.4,2.8],[3.9,2.8],[3.7,1.7],[4.9,5.3],[5.5,-.6],[5.3,-.4],[6,-.1],[6.7,.1],[7.5,.2],
[6.9,8.3],[6.9,7.9],[7.2,7],[7.9,6.7],[8.4,7],[5.8,6.4],[6.5,6],[7.3,6.1],[7.9,5.8],[5,5.3],[5.8,5.4],[6.6,5.2],[7.4,5],[8.2,5.1],[8.7,4.9],[5.6,4.5],[6.3,4.3],[7,4.2],[7.8,4.3],[8.6,4.2],[5.4,3.7],[6.2,3.5],[7,3.5],[7.9,3.4],[8.7,3.2],[4.7,3.1],[5.3,3],[6,2.9],[6.8,2.8],[7.6,2.7],[8.4,2.7],[4.2,2.2],[5,2.2],[5.7,2.1],[6.5,2],[7.3,2],[8.1,1.9],[8.8,1.1],[4.8,1.3],[5.6,1.3],[6.4,1.2],[7.2,1.2],[8,1],[8.4,.9],[5.5,.6],[6.3,.6],[7.1,.6],[7.9,.7],
[9.4,5],[9.9,6.2],[10.6,6],[11,5.8],[9.5,5.6],[10.1,5.7],[9.8,4.9],[10.6,4.9],[11,4.5],[9.6,4.1],[10.2,4.4],[9.6,3.5],[10.3,3.7],[10.9,3.4],[9.3,3.8],
[6.4,6.6],[7,7.6],[7.6,5.5],[5.4,5.8],[6.2,5.5],[7,5.1],[6,4.6],[6.7,4.5],[7.4,4.4],[8.1,3.8],[5.8,3.6],[6.6,3.6],[7.4,3.6],[4.4,2.8],[5,2.7],[5.8,2.6],[6.6,2.4],[7.4,2.4],[8.2,2.3],[4.6,1.7],[5.4,1.7],[6.2,1.6],[7,1.7],[7.8,1.8],[5.1,.9],[5.9,.7],[6.7,.9],[7.5,.6],[10.4,5.4],[11.1,4]
];

const NS='http://www.w3.org/2000/svg';

function linearScale(domain,range){
  return function(v){return range[0]+(v-domain[0])/(domain[1]-domain[0])*(range[1]-range[0]);};
}
function addLine(parent,x1,y1,x2,y2,stroke,width,opacity){
  const el=document.createElementNS(NS,'line');
  el.setAttribute('x1',x1);el.setAttribute('y1',y1);el.setAttribute('x2',x2);el.setAttribute('y2',y2);
  el.setAttribute('stroke',stroke);el.setAttribute('stroke-width',width);
  if(opacity!==undefined)el.setAttribute('stroke-opacity',opacity);
  parent.appendChild(el);
  return el;
}
function addLabel(parent,x,y,anchor,content){
  const el=document.createElementNS(NS,'text');
  el.setAttribute('class','tick');
  el.setAttribute('x',x);el.setAttribute('y',y);el.setAttribute('text-anchor',anchor);
  el.textContent=content;
  parent.appendChild(el);
  return el;
}
function addPoint(parent,x,y,color,name,marker){
  const el=document.createElementNS(NS,'circle');
  el.setAttribute('cx',x.toFixed(1));el.setAttribute('cy',y.toFixed(1));el.setAttribute('r',marker.r);
  el.setAttribute('fill',color);el.setAttribute('fill-opacity',marker.alpha);
  el.setAttribute('stroke',color);el.setAttribute('stroke-opacity',marker.alpha);el.setAttribute('stroke-width','1.5');
  
  
  parent.appendChild(el);
}
function drawPanel(id,box,xDomain,yDomain,xTicks,xLabels,yTicks,yLabels,benign,malicious,marker){
  const g=document.getElementById(id);
  const sx=linearScale(xDomain,[box.left,box.right]);
  const sy=linearScale(yDomain,[box.bottom,box.top]);
  xTicks.forEach(function(t,i){
    const grid=addLine(g,sx(t),box.top,sx(t),box.bottom,'#b0b0b0',2.2,0.3);
    
    
    const tick=addLine(g,sx(t),box.bottom,sx(t),box.bottom+9.7,'#000',2.2);
    
    
    const label=addLabel(g,sx(t),804,'middle',xLabels[i]);
    
    
  });
  yTicks.forEach(function(t,i){
    const grid=addLine(g,box.left,sy(t),box.right,sy(t),'#b0b0b0',2.2,0.3);
    
    
    const tick=addLine(g,box.left-9.7,sy(t),box.left,sy(t),'#000',2.2);
    
    
    const label=addLabel(g,box.left-17,sy(t)+8.5,'end',yLabels[i]);
    
    
  });
  const count=Math.max(benign.length,malicious.length);
  for(let i=0;i<count;i++){
    if(i<malicious.length)addPoint(g,sx(malicious[i][0]),sy(malicious[i][1]),'#313695','point-malicious',marker);
    if(i<benign.length)addPoint(g,sx(benign[i][0]),sy(benign[i][1]),'#a50026','point-benign',marker);
  }
  const frame=document.createElementNS(NS,'rect');
  frame.setAttribute('x',box.left);frame.setAttribute('y',box.top);
  frame.setAttribute('width',box.right-box.left);frame.setAttribute('height',box.bottom-box.top);
  frame.setAttribute('fill','none');frame.setAttribute('stroke','#000');frame.setAttribute('stroke-width','2.2');
  
  
  g.appendChild(frame);
}

drawPanel('pca-panel',{left:131.7,right:1040,top:87.8,bottom:768.3},[-.4071,.2154],[-.2479,.3693],pcaXTicks,pcaXLabels,pcaYTicks,pcaYLabels,pcaBenign,pcaMalicious,{r:6,alpha:0.68});
drawPanel('tsne-panel',{left:1161.5,right:2070,top:87.8,bottom:768.3},[-96,78.3],[-78.9,102.3],tsneXTicks,tsneXLabels,tsneYTicks,tsneYLabels,tsneBenign,tsneMalicious,{r:6.2,alpha:0.82});
drawPanel('umap-panel',{left:2191,right:3100.6,top:87.8,bottom:768.3},[-10.79,34.53],[-15.22,20.63],umapXTicks,umapXLabels,umapYTicks,umapYLabels,umapBenign,umapMalicious,{r:6.6,alpha:0.92});

(function(){
  const gradient=document.getElementById('rdylbu');
  colormapPositions.forEach(function(p,i){
    const stop=document.createElementNS(NS,'stop');
    stop.setAttribute('offset',p);
    stop.setAttribute('stop-color',colormapColors[i]);
    stop.setAttribute('stop-opacity','0.6');
    gradient.appendChild(stop);
  });
  const bar=document.getElementById('colorbar');
  const left=800,right=2430.6,top=915,bottom=956;
  const sc=linearScale([0,1],[left,right]);
  const fill=document.createElementNS(NS,'rect');
  fill.setAttribute('x',left);fill.setAttribute('y',top);fill.setAttribute('width',right-left);fill.setAttribute('height',bottom-top);
  fill.setAttribute('fill','url(#rdylbu)');fill.setAttribute('stroke','#000');fill.setAttribute('stroke-width','2.2');
  
  
  bar.appendChild(fill);
  colorbarTicks.forEach(function(t,i){
    const tick=addLine(bar,sc(t),bottom,sc(t),bottom+9.7,'#000',2.2);
    
    
    const label=addLabel(bar,sc(t),990,'middle',colorbarLabels[i]);
    
    
  });
})();
</script>
</body>
</html>
